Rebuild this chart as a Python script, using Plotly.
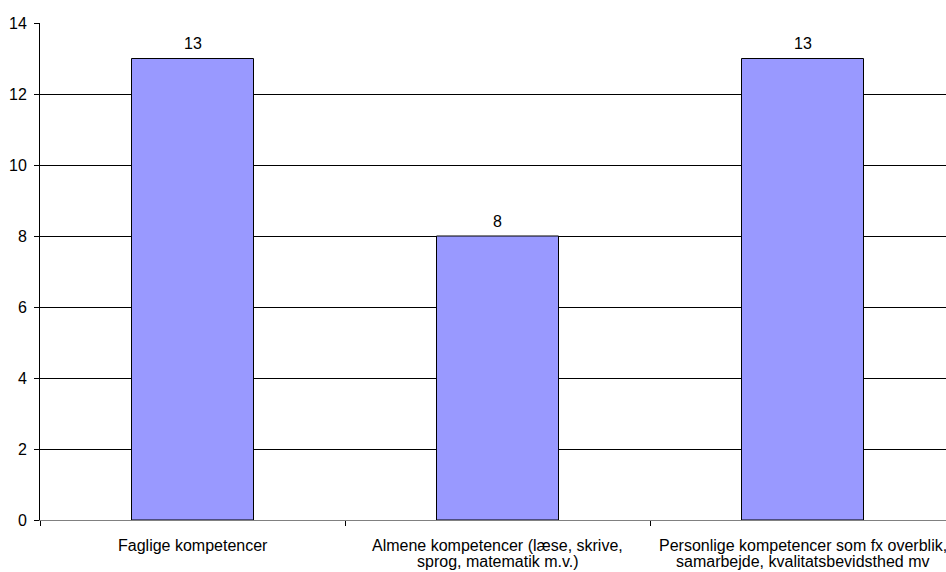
import plotly.graph_objects as go

# Category labels, one list of text lines per category
category_lines = [
    ["Faglige kompetencer"],
    ["Almene kompetencer (læse, skrive,", "sprog, matematik m.v.)"],
    ["Personlige kompetencer som fx overblik,", "samarbejde, kvalitatsbevidsthed mv"],
]
categories = [" ".join(lines) for lines in category_lines]
values = [13, 8, 13]
y_ticks = [0, 2, 4, 6, 8, 10, 12, 14]

FONT = "Liberation Sans, Arial, sans-serif"
FONT_SIZE = 16

fig = go.Figure(
    go.Bar(
        x=categories,
        y=values,
        width=0.4,
        marker=dict(color="#9999FF", line=dict(color="#000000", width=1)),
        hoverinfo="x+y",
    )
)

annotations = []
# value labels above the bars
for cat, v in zip(categories, values):
    annotations.append(dict(
        x=cat, y=v, xref="x", yref="y",
        text=str(v), showarrow=False,
        yanchor="middle", yshift=15,
        font=dict(family=FONT, size=FONT_SIZE, color="#000000"),
    ))
# category labels under the axis, tight line spacing
for cat, lines in zip(categories, category_lines):
    for i, line in enumerate(lines):
        annotations.append(dict(
            x=cat, y=0, xref="x", yref="paper",
            text=line, showarrow=False,
            yanchor="middle", yshift=-25 - 16 * i,
            font=dict(family=FONT, size=FONT_SIZE, color="#000000"),
        ))

fig.update_layout(
    width=946,
    height=572,
    margin=dict(l=40, r=0, t=23, b=52),
    paper_bgcolor="white",
    plot_bgcolor="white",
    font=dict(family=FONT, size=FONT_SIZE, color="#000000"),
    showlegend=False,
    bargap=0.6,
    annotations=annotations,
)

fig.update_xaxes(
    type="category",
    range=[-0.5, 2.4705],
    showgrid=False,
    showline=True,
    linecolor="#808080",
    linewidth=1,
    ticks="outside",
    tickson="boundaries",
    ticklen=5,
    tickcolor="#000000",
    showticklabels=False,
    automargin=False,
)

fig.update_yaxes(
    range=[0, 14],
    tickvals=y_ticks,
    showgrid=True,
    gridcolor="#000000",
    gridwidth=1,
    showline=True,
    linecolor="#000000",
    linewidth=1,
    ticks="outside",
    ticklen=5,
    tickcolor="#000000",
    tickfont=dict(size=FONT_SIZE),
    ticklabelstandoff=4,
    zeroline=False,
    automargin=False,
)

fig.write_html("out.html")
